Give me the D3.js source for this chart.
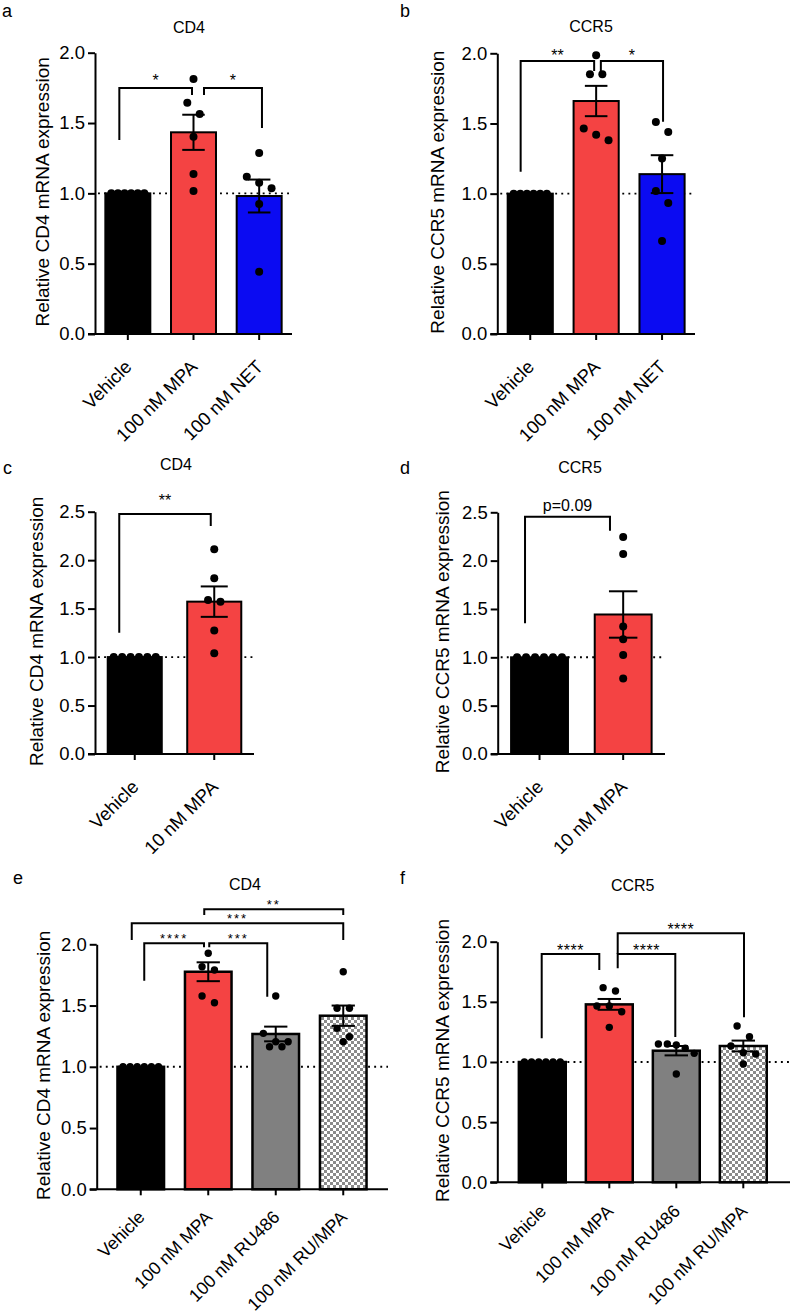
<!DOCTYPE html>
<html><head><meta charset="utf-8">
<script src="https://cdn.jsdelivr.net/npm/d3@7"></script>
<style>
html,body{margin:0;padding:0;background:#fff;}
svg{display:block;font-family:"Liberation Sans",Arial,Helvetica,sans-serif;}
</style></head>
<body>
<svg id="chart" width="792" height="1314"></svg>
<script>
// ---------- DATA ----------
const catsA = ["Vehicle", "100 nM MPA", "100 nM NET"];
const meansA = [1.0, 1.434, 0.981];
const semA = [0, 0.125, 0.117];
const ptsA = [[1,1,1,1,1,1],[1.813,1.645,1.564,1.403,1.138,1.017],[1.287,1.118,1.076,1.036,0.924,0.443]];
const sigA = [[0,1,"*"],[1,2,"*"]];

const catsB = ["Vehicle", "100 nM MPA", "100 nM NET"];
const meansB = [1.0, 1.66, 1.139];
const semB = [0, 0.108, 0.135];
const ptsB = [[1,1,1,1,1,1],[1.986,1.851,1.851,1.464,1.419,1.381],[1.511,1.44,1.25,1.018,0.934,0.662]];
const sigB = [[0,1,"**"],[1,2,"*"]];

const catsC = ["Vehicle", "10 nM MPA"];
const meansC = [1.0, 1.572];
const semC = [0, 0.157];
const ptsC = [[1,1,1,1,1,1],[2.112,1.813,1.589,1.572,1.273,1.039]];
const sigC = [[0,1,"**"]];

const catsD = ["Vehicle", "10 nM MPA"];
const meansD = [1.0, 1.443];
const semD = [0, 0.24];
const ptsD = [[1,1,1,1,1,1],[2.245,2.069,1.319,1.188,1.023,0.782]];
const sigD = [[0,1,"p=0.09"]];

const catsE = ["Vehicle", "100 nM MPA", "100 nM RU486", "100 nM RU/MPA"];
const meansE = [1.0, 1.776, 1.268, 1.417];
const semE = [0, 0.077, 0.06, 0.083];
const ptsE = [[1,1,1,1,1,1],[1.927,1.817,1.79,1.578,1.523],[1.578,1.273,1.205,1.205,1.164,1.164],[1.776,1.478,1.478,1.314,1.246,1.205]];
const sigE = [[0,1,"****"],[1,2,"***"],[0,3,"***"],[1,3,"**"]];

const catsF = ["Vehicle", "100 nM MPA", "100 nM RU486", "100 nM RU/MPA"];
const meansF = [1.0, 1.479, 1.094, 1.133];
const semF = [0, 0.045, 0.039, 0.045];
const ptsF = [[1,1,1,1,1,1],[1.618,1.59,1.466,1.466,1.418,1.288],[1.15,1.15,1.141,1.114,1.072,0.9],[1.299,1.21,1.133,1.077,1.066,0.983]];
const sigF = [[0,1,"****"],[1,2,"****"],[1,3,"****"]];

const yTicksAB = [0, 0.5, 1.0, 1.5, 2.0];
const yTicksCD = [0, 0.5, 1.0, 1.5, 2.0, 2.5];

// ---------- LAYOUT / STYLE ----------
const RED = "#f44343", BLUE = "#0b0bf2", GRAY = "#808080";
const panels = [
  {letter:"a", title:"CD4", ylab:"Relative CD4 mRNA expression", cats:catsA, means:meansA, sem:semA, pts:ptsA, sig:sigA, ticks:yTicksAB, ymax:2,
   fills:["#000",RED,BLUE], axisX:95, axisEnd:292, yTop:52.7, y0:334, band:[95,292], pi:0.315, ylabX:48.6, titleXY:[189,33.3], letterXY:[2,17],
   r:4, barSW:2, starFs:16, gap:11, xlDy:34, xlFs:18.5,
   br:[{dx:[-8.5,-1.5], top:1.749, bot:[1.379,1.699]},{dx:[10.5,2.8], top:1.749, bot:[1.699,1.465]}]},
  {letter:"b", title:"CCR5", ylab:"Relative CCR5 mRNA expression", cats:catsB, means:meansB, sem:semB, pts:ptsB, sig:sigB, ticks:yTicksAB, ymax:2,
   fills:["#000",RED,BLUE], axisX:497.3, axisEnd:695, yTop:53.3, y0:334, band:[497.3,695], pi:0.315, ylabX:443.6, titleXY:[591,31.7], letterXY:[400,17],
   r:4, barSW:2, starFs:16, gap:9.5, xlDy:34, xlFs:18.5,
   br:[{dx:[-9.6,-2], top:1.945, bot:[1.156,1.874]},{dx:[4.7,1], top:1.945, bot:[1.874,1.513]}]},
  {letter:"c", title:"CD4", ylab:"Relative CD4 mRNA expression", cats:catsC, means:meansC, sem:semC, pts:ptsC, sig:sigC, ticks:yTicksCD, ymax:2.5,
   fills:["#000",RED], axisX:95, axisEnd:254, yTop:511.7, y0:754, band:[95,254], pi:0.32, ylabX:43, titleXY:[176,470], letterXY:[3,474],
   r:4, barSW:2, starFs:16, gap:17, xlDy:34, xlFs:18.5,
   br:[{dx:[-15.5,-3.5], top:2.476, bot:[1.252,2.352]}]},
  {letter:"d", title:"CCR5", ylab:"Relative CCR5 mRNA expression", cats:catsD, means:meansD, sem:semD, pts:ptsD, sig:sigD, ticks:yTicksCD, ymax:2.5,
   fills:["#000",RED], axisX:497.7, axisEnd:665, yTop:512.3, y0:754, band:[497.7,665], pi:0.32, ylabX:448.6, titleXY:[580,473.3], letterXY:[400,474],
   r:4, barSW:2, starFs:16, gap:11.7, xlDy:34, xlFs:18.5,
   br:[{dx:[-14.5,-13.2], top:2.454, bot:[1.352,2.309]}]},
  {letter:"e", title:"CD4", ylab:"Relative CD4 mRNA expression", cats:catsE, means:meansE, sem:semE, pts:ptsE, sig:sigE, ticks:yTicksAB, ymax:2,
   fills:["#000",RED,GRAY,"url(#checker)"], axisX:96.7, axisEnd:388, yTop:944.3, y0:1189.3, band:[107,377], pi:0.31, ylabX:49.6, titleXY:[245,890], letterXY:[13,884],
   r:3.7, barSW:2.5, starFs:13, starLS:2, gap:8, xlDy:29, xlFs:17.8,
   br:[{dx:[3.5,-4.25], top:2.008, bot:[1.703,1.976]},{dx:[1,-8.5], top:2.008, bot:[1.976,1.572]},
       {dx:[-9,0], top:2.171, bot:[2.035,2.035]},{dx:[-4,0], top:2.286, bot:[2.239,2.239]}]},
  {letter:"f", title:"CCR5", ylab:"Relative CCR5 mRNA expression", cats:catsF, means:meansF, sem:semF, pts:ptsF, sig:sigF, ticks:yTicksAB, ymax:2,
   fills:["#000",RED,GRAY,"url(#checker)"], axisX:497.3, axisEnd:790, yTop:941.7, y0:1182.3, band:[508.8,776.8], pi:0.30, ylabX:448.6, titleXY:[632.7,891], letterXY:[400,884],
   r:3.7, barSW:2.5, starFs:16, starLS:0.5, gap:7.5, xlDy:30, xlFs:17.8,
   br:[{dx:[-0.6,-10], top:1.898, bot:[1.197,1.765]},{dx:[8.4,-1], top:1.898, bot:[1.779,1.208]},
       {dx:[8.4,0.7], top:2.07, bot:[1.898,1.372]}]}
];

const svg = d3.select("#chart");
svg.append("rect").attr("width",792).attr("height",1314).attr("fill","#fff");
const defs = svg.append("defs");
const pat = defs.append("pattern").attr("id","checker").attr("width",6).attr("height",6).attr("patternUnits","userSpaceOnUse");
pat.append("rect").attr("width",6).attr("height",6).attr("fill","#fff");
pat.append("rect").attr("width",3).attr("height",3).attr("fill","#8a8a8a");
pat.append("rect").attr("x",3).attr("y",3).attr("width",3).attr("height",3).attr("fill","#8a8a8a");

function swarm(vals, y, bw, r) {
  const sorted = vals.map((v,i)=>({v,i})).sort((a,b)=>b.v-a.v);
  const rows = []; let cur = null;
  for (const p of sorted) {
    const py = y(p.v);
    if (cur && py - cur.y0 < 12.2) cur.items.push(p);
    else { cur = {y0:py, items:[p]}; rows.push(cur); }
  }
  const out = [];
  rows.forEach(row => {
    const n = row.items.length;
    const s = n > 1 ? Math.min(12.4, (bw - 3*r)/(n-1)) : 0;
    row.items.forEach((p,k) => out.push({v:p.v, dx:(k-(n-1)/2)*s}));
  });
  return out;
}

panels.forEach(P => {
  const g = svg.append("g");
  const y = d3.scaleLinear().domain([0, P.ymax]).range([P.y0, P.yTop]);
  const x = d3.scaleBand().domain(P.cats).range(P.band).paddingInner(P.pi).paddingOuter(P.pi/2);
  const bw = x.bandwidth();
  const cx = c => x(c) + bw/2;

  // reference dotted line at 1.0
  g.append("line").attr("x1", P.axisX + 3).attr("x2", P.axisEnd).attr("y1", y(1)).attr("y2", y(1))
    .attr("stroke","#000").attr("stroke-width",1.9).attr("stroke-dasharray","1.9,4.2");

  // bars
  g.selectAll("rect.bar").data(P.cats).join("rect").attr("class","bar")
    .attr("x", d => x(d)).attr("width", bw)
    .attr("y", (d,i) => y(P.means[i])).attr("height", (d,i) => y(0) - y(P.means[i]))
    .attr("fill", (d,i) => P.fills[i]).attr("stroke","#000").attr("stroke-width", P.barSW);

  // points
  P.cats.forEach((c,i) => {
    const sw = swarm(P.pts[i], y, bw, P.r);
    g.selectAll(null).data(sw).join("circle")
      .attr("cx", d => cx(c) + d.dx).attr("cy", d => y(d.v)).attr("r", P.r).attr("fill","#000");
  });

  // error bars (mean ± SEM)
  P.cats.forEach((c,i) => {
    if (!P.sem[i]) return;
    const hi = y(P.means[i] + P.sem[i]), lo = y(P.means[i] - P.sem[i]), hw = bw/4;
    const eg = g.append("g").attr("stroke","#000").attr("stroke-width",2);
    eg.append("line").attr("x1",cx(c)).attr("x2",cx(c)).attr("y1",hi).attr("y2",lo);
    eg.append("line").attr("x1",cx(c)-hw).attr("x2",cx(c)+hw).attr("y1",hi).attr("y2",hi);
    eg.append("line").attr("x1",cx(c)-hw).attr("x2",cx(c)+hw).attr("y1",lo).attr("y2",lo);
  });

  // y axis
  const ya = g.append("g").attr("transform",`translate(${P.axisX},0)`)
    .call(d3.axisLeft(y).tickValues(P.ticks).tickFormat(d3.format(".1f")).tickSize(7).tickPadding(3).tickSizeOuter(0));
  ya.select(".domain").attr("stroke-width",2);
  ya.selectAll(".tick line").attr("stroke-width",2);
  ya.selectAll(".tick text").attr("font-size",18.5).attr("font-family","Liberation Sans, Arial, sans-serif").attr("fill","#000");

  // x axis
  const xa = g.append("g").attr("transform",`translate(0,${P.y0})`)
    .call(d3.axisBottom(x).tickSize(6).tickSizeOuter(0));
  xa.select(".domain").remove();
  xa.selectAll(".tick line").attr("stroke-width",2);
  xa.selectAll(".tick text").remove();
  g.append("line").attr("x1",P.axisX - 7).attr("x2",P.axisEnd).attr("y1",P.y0).attr("y2",P.y0)
    .attr("stroke","#000").attr("stroke-width",2);
  g.selectAll("text.xl").data(P.cats).join("text").attr("class","xl")
    .attr("transform", d => `translate(${cx(d)+5},${P.y0+P.xlDy}) rotate(-45)`)
    .attr("text-anchor","end").attr("font-size",P.xlFs).attr("fill","#000").text(d => d);

  // significance brackets
  P.sig.forEach((s,k) => {
    const L = P.br[k];
    const xl = cx(P.cats[s[0]]) + L.dx[0], xr = cx(P.cats[s[1]]) + L.dx[1];
    const yt = y(L.top);
    g.append("path").attr("d", `M${xl},${y(L.bot[0])}V${yt}H${xr}V${y(L.bot[1])}`)
      .attr("fill","none").attr("stroke","#000").attr("stroke-width",2);
    const isStar = /^\*+$/.test(s[2]);
    const t = g.append("text").attr("x",(xl+xr)/2).attr("text-anchor","middle").attr("fill","#000").text(s[2]);
    if (isStar) {
      t.attr("font-size",P.starFs).attr("letter-spacing",P.starLS || 0)
       .attr("y", yt - P.gap + 0.58*P.starFs);
    } else {
      t.attr("font-size",16).attr("y", yt - P.gap + 0.36*16);
    }
  });

  // titles, labels
  g.append("text").attr("x",P.titleXY[0]).attr("y",P.titleXY[1]).attr("text-anchor","middle")
    .attr("font-size",16).attr("fill","#000").text(P.title);
  g.append("text").attr("x",P.letterXY[0]).attr("y",P.letterXY[1]).attr("font-size",18).attr("fill","#000").text(P.letter);
  g.append("text").attr("transform",`translate(${P.ylabX},${(P.y0+P.yTop)/2 - 1.5}) rotate(-90)`)
    .attr("text-anchor","middle").attr("font-size",19).attr("fill","#000").text(P.ylab);
});
</script>
</body></html>
